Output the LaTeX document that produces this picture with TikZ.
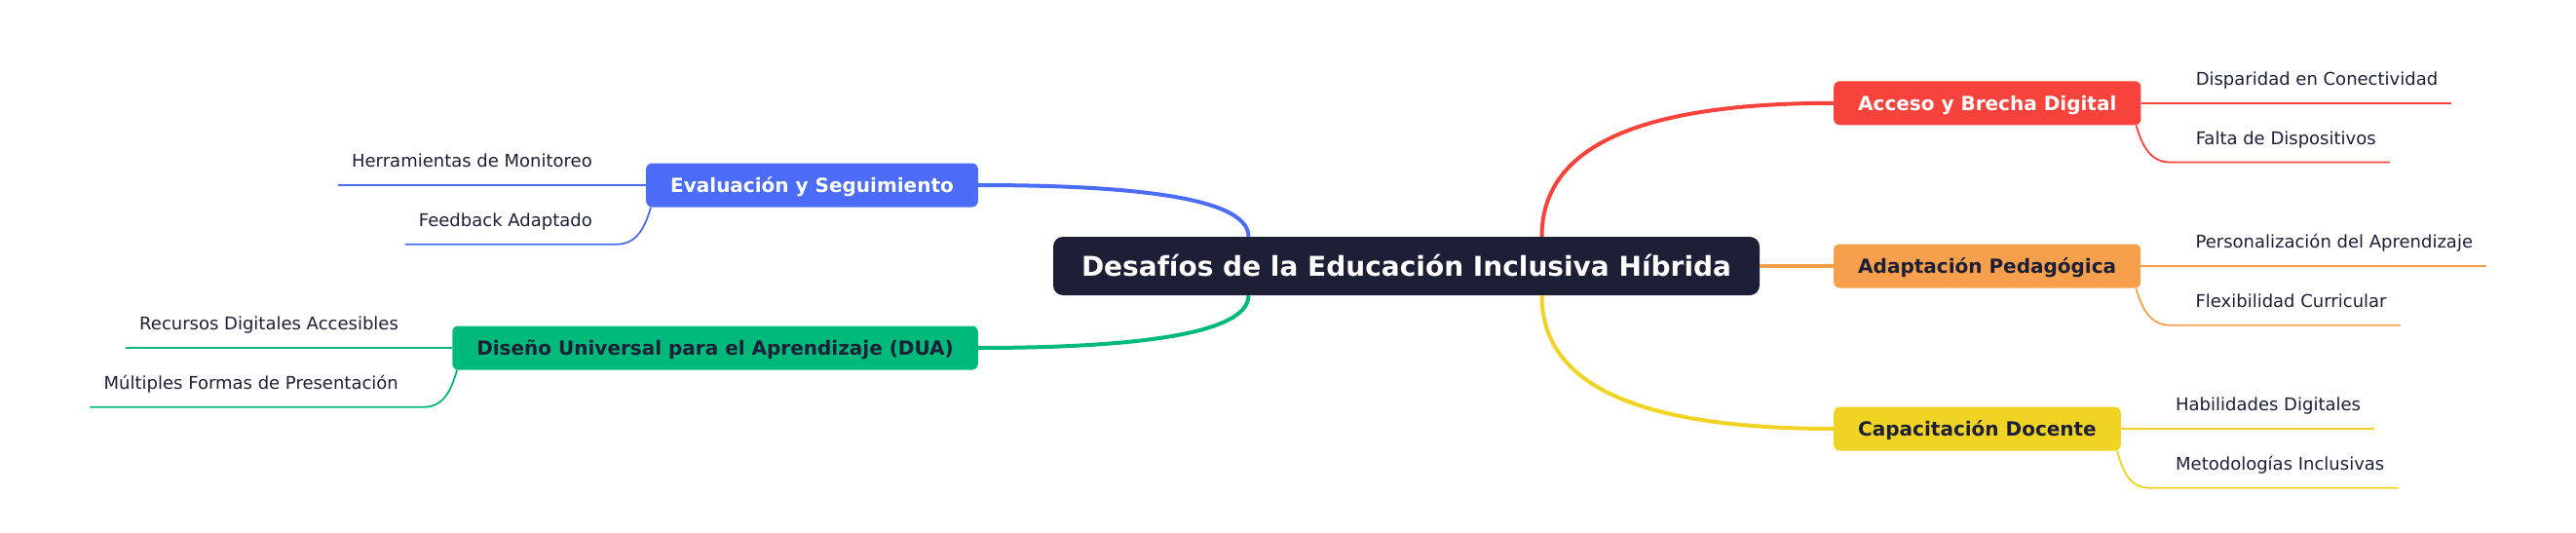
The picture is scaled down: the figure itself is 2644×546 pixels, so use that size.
\documentclass[tikz,border=0pt]{standalone}
\usepackage{fontspec}
\setmainfont{DejaVu Sans}
\usepackage{tikz}
\usetikzlibrary{calc}
\definecolor{navy}{RGB}{28,31,54}
\definecolor{cred}{RGB}{248,67,60}
\definecolor{corange}{RGB}{246,160,76}
\definecolor{cyellow}{RGB}{241,211,36}
\definecolor{cblue}{RGB}{74,108,247}
\definecolor{cgreen}{RGB}{0,186,123}

\begin{document}
\begin{tikzpicture}[x=1pt,y=-1pt,
    rootbox/.style={fill=navy,text=white,rounded corners=10pt,inner xsep=29pt,inner ysep=0pt,
        minimum height=60pt,text height=20.4pt,text depth=0pt,font=\bfseries\fontsize{28}{34}\selectfont},
    branch/.style={rounded corners=6pt,inner xsep=25pt,inner ysep=0pt,
        minimum height=45pt,text height=14.6pt,text depth=0pt,font=\bfseries\fontsize{20}{24}\selectfont},
    leaf/.style={inner sep=0pt,text=navy,font=\fontsize{18}{22}\selectfont},
    mainline/.style={line width=4pt},
    subline/.style={line width=1.8pt}]
            \useasboundingbox (0,0) rectangle (2644,546);
            % centre and branches
            \node[rootbox] (root) at (1443.5,273) {Desafíos de la Educación Inclusiva Híbrida};
            \node[branch,fill=cred,text=white,anchor=west] (acc) at (1882,105.8) {Acceso y Brecha Digital};
            \node[branch,fill=corange,text=navy,anchor=west] (ada) at (1882,273) {Adaptación Pedagógica};
            \node[branch,fill=cyellow,text=navy,anchor=west] (cap) at (1882,440) {Capacitación Docente};
            \node[branch,fill=cblue,text=white,anchor=east] (eva) at (1004,190) {Evaluación y Seguimiento};
            \node[branch,fill=cgreen,text=navy,anchor=east] (dis) at (1004,357) {Diseño Universal para el Aprendizaje (DUA)};
            \draw[mainline,cred] ($(root.north)+(139,0)$) .. controls +(0,-92) and +(-201,0) .. (acc.west);
            \draw[mainline,corange] (root.east) -- (ada.west);
            \draw[mainline,cyellow] ($(root.south)+(139,0)$) .. controls +(0,92) and +(-201,0) .. (cap.west);
            \draw[mainline,cblue] ($(root.north)+(-162,0)$) .. controls +(0,-43) and +(140,0) .. (eva.east);
            \draw[mainline,cgreen] ($(root.south)+(-162,0)$) .. controls +(0,43) and +(140,0) .. (dis.east);
            % right leaves
            \node[leaf,anchor=base west] (dc) at ($(acc.east)+(56,-18.5)$) {Disparidad en Conectividad};
            \draw[subline,cred] (acc.east) -- ($(dc.east |- acc.east)+(14,0)$);
            \coordinate (fdl) at ($(acc.south east)+(30,38)$);
            \node[leaf,anchor=base west] (fd) at ($(acc.south east)+(56,19.5)$) {Falta de Dispositivos};
            \draw[subline,cred] ($(acc.south east)+(-5,0)$) .. controls +(7,25) and +(-18,0) .. (fdl) -- ($(fdl -| fd.east)+(14,0)$);
            \node[leaf,anchor=base west] (pa) at ($(ada.east)+(56,-18.5)$) {Personalización del Aprendizaje};
            \draw[subline,corange] (ada.east) -- ($(pa.east |- ada.east)+(14,0)$);
            \coordinate (fcl) at ($(ada.south east)+(30,38)$);
            \node[leaf,anchor=base west] (fc) at ($(ada.south east)+(56,19.5)$) {Flexibilidad Curricular};
            \draw[subline,corange] ($(ada.south east)+(-5,0)$) .. controls +(7,25) and +(-18,0) .. (fcl) -- ($(fcl -| fc.east)+(14,0)$);
            \node[leaf,anchor=base west] (hd) at ($(cap.east)+(56,-18.5)$) {Habilidades Digitales};
            \draw[subline,cyellow] (cap.east) -- ($(hd.east |- cap.east)+(14,0)$);
            \coordinate (mil) at ($(cap.south east)+(29,38)$);
            \node[leaf,anchor=base west] (mi) at ($(cap.south east)+(56,19.5)$) {Metodologías Inclusivas};
            \draw[subline,cyellow] ($(cap.south east)+(-4,0)$) .. controls +(7,25) and +(-18,0) .. (mil) -- ($(mil -| mi.east)+(14,0)$);
            % left leaves
            \node[leaf,anchor=base east] (hm) at ($(eva.west)+(-55,-18.5)$) {Herramientas de Monitoreo};
            \draw[subline,cblue] (eva.west) -- ($(hm.west |- eva.west)+(-14,0)$);
            \coordinate (fal) at ($(eva.south west)+(-30,38)$);
            \node[leaf,anchor=base east] (fa) at ($(eva.south west)+(-55,19.5)$) {Feedback Adaptado};
            \draw[subline,cblue] ($(eva.south west)+(5,0)$) .. controls +(-7,25) and +(18,0) .. (fal) -- ($(fal -| fa.west)+(-14,0)$);
            \node[leaf,anchor=base east] (rd) at ($(dis.west)+(-55,-18.5)$) {Recursos Digitales Accesibles};
            \draw[subline,cgreen] (dis.west) -- ($(rd.west |- dis.west)+(-14,0)$);
            \coordinate (mfl) at ($(dis.south west)+(-29,38)$);
            \node[leaf,anchor=base east] (mf) at ($(dis.south west)+(-55,19.5)$) {Múltiples Formas de Presentación};
            \draw[subline,cgreen] ($(dis.south west)+(5,0)$) .. controls +(-7,25) and +(18,0) .. (mfl) -- ($(mfl -| mf.west)+(-14,0)$);
        \end{tikzpicture}
\end{document}
